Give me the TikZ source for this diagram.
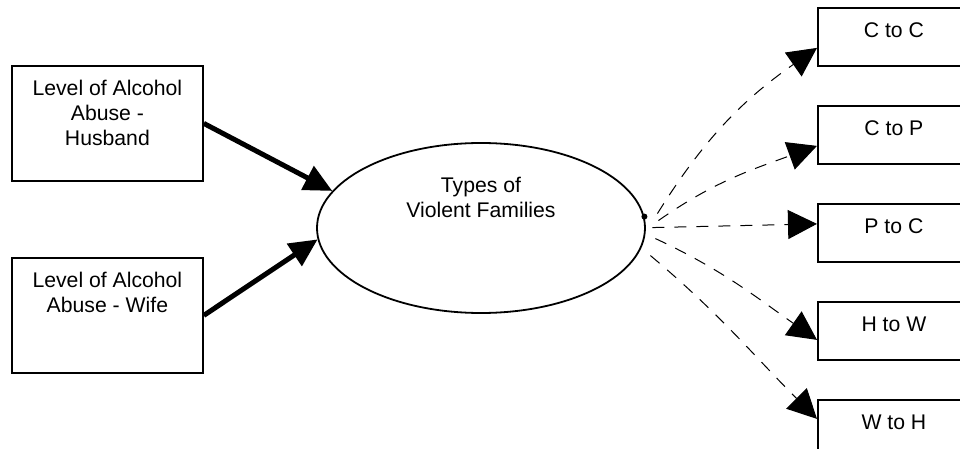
\documentclass[tikz,border=0pt]{standalone}
\usepackage{fontspec}
\setmainfont{Liberation Sans}
\usetikzlibrary{positioning, shapes.geometric, arrows.meta}
\newcommand{\stack}[1]{\begin{tabular}[t]{@{}c@{}}#1\end{tabular}}
\tikzset{
	every node/.append style={
		font=\fontsize{10.6pt}{12.5pt}\selectfont,
	},
	layer/.append style={
		draw,
		line width=0.9pt,
		inner sep=0pt,
		text height=15pt,
	},
	cause/.append style={
		layer,
		minimum width=95.5pt,
		text depth=42.5pt
	},
	result/.append style={
		layer,
		minimum width=76pt,
		text depth=14pt
	},
	hub/.append style={
		draw, ellipse,
		line width=0.9pt,
		inner sep=0pt,
		minimum width=164pt,
		minimum height=85pt,
		text height=10pt,
		text depth=45pt
	},
	strong/.append style={
		line width=2.5pt,
		-{Triangle[length=14pt, width=13pt]}
	},
	weak/.append style={
		line width=0.5pt,
		dash pattern=on 6pt off 5pt,
		-{Triangle[length=14.5pt, width=14.5pt]}
	}
}

\begin{document}
\begin{tikzpicture}[x=0.5pt, y=-0.5pt]
		\useasboundingbox (0,0) rectangle (960,449);
		
		\node(hus)[cause, anchor=north west] at (11,65) {\stack{Level of Alcohol\\Abuse -\\Husband}};
		\node(wif)[cause, anchor=north west] at (11,257) {\stack{Level of Alcohol\\Abuse - Wife}};
		\node(fam)[hub] at (481,228) {\stack{Types of\\Violent Families}};
		
		\node(cc)[result, anchor=north west] at (817,7) {C to C};
		\node(cp)[result, below=19.1pt of cc] {C to P};
		\node(pc)[result, below=19.1pt of cp] {P to C};
		\node(hw)[result, below=19.1pt of pc] {H to W};
		\node(wh)[result, below=19.1pt of hw] {W to H};
		
		\coordinate(src) at (fam.4);
		\fill (src) circle (1.5pt);
		
		\draw[strong] (hus.east) -- (fam.166);
		\draw[strong] (wif.east) -- (fam.184);
		
		\draw[weak] ([shift={(13,-3)}]src) to[out=58, in=215] ([yshift=-5.5pt]cc.west);
		\draw[weak] ([shift={(14,4)}]src) to[out=35, in=200] ([yshift=-5.5pt]cp.west);
		\draw[weak] ([shift={(8,11)}]src) -- ([yshift=4.5pt]pc.west);
		\draw[weak] ([shift={(11,22)}]src) to[out=-25, in=145] ([yshift=-4.5pt]hw.west);
		\draw[weak] ([shift={(6,39)}]src) to[out=-40, in=135] ([yshift=5pt]wh.west);
		\end{tikzpicture}
\end{document}
